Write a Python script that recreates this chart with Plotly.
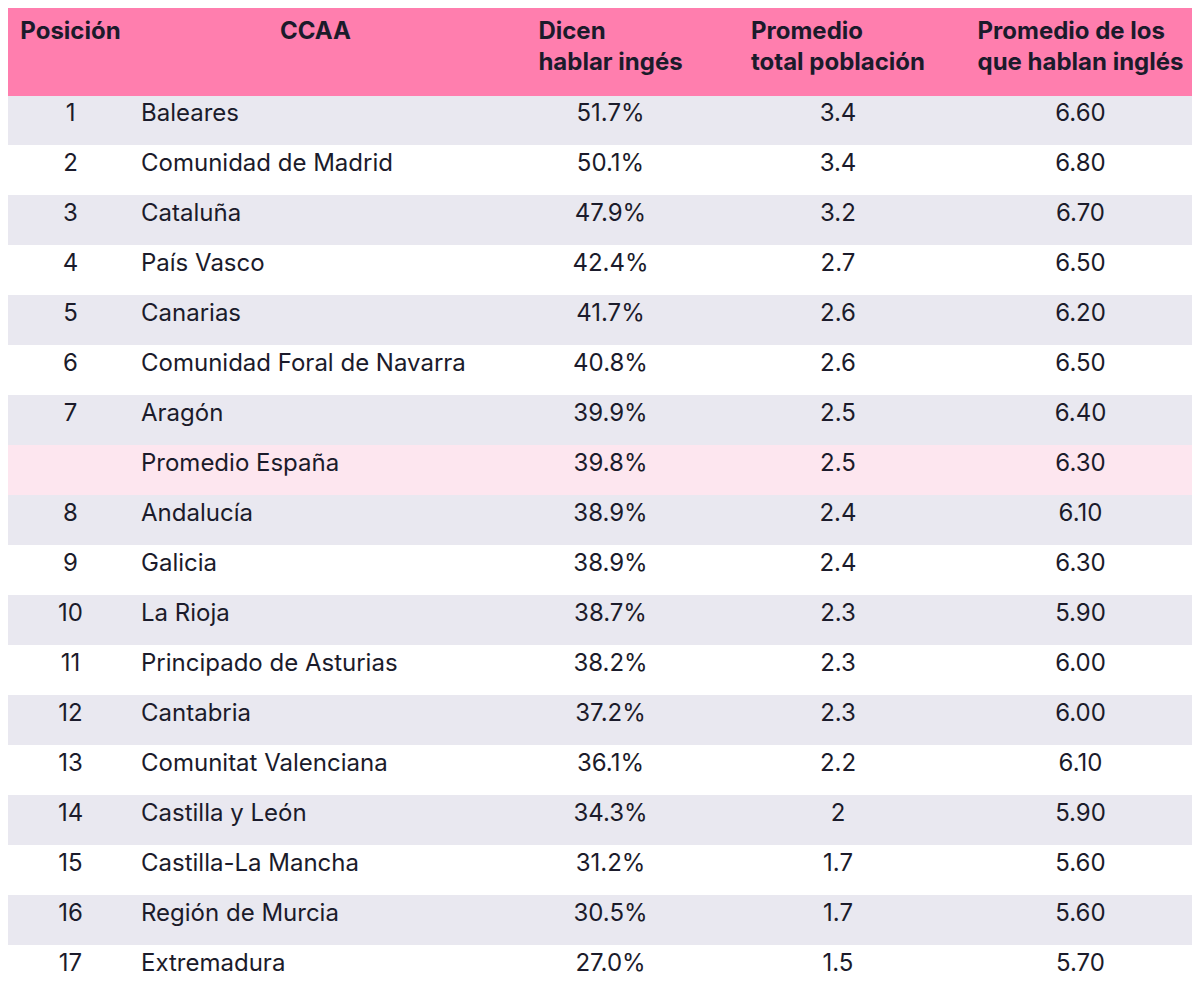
import plotly.graph_objects as go

posicion = ["1", "2", "3", "4", "5", "6", "7", "", "8", "9", "10", "11", "12", "13", "14", "15", "16", "17"]
ccaa = ["Baleares", "Comunidad de Madrid", "Cataluña", "País Vasco", "Canarias",
        "Comunidad Foral de Navarra", "Aragón", "Promedio España", "Andalucía", "Galicia",
        "La Rioja", "Principado de Asturias", "Cantabria", "Comunitat Valenciana",
        "Castilla y León", "Castilla-La Mancha", "Región de Murcia", "Extremadura"]
dicen = ["51.7%", "50.1%", "47.9%", "42.4%", "41.7%", "40.8%", "39.9%", "39.8%", "38.9%",
         "38.9%", "38.7%", "38.2%", "37.2%", "36.1%", "34.3%", "31.2%", "30.5%", "27.0%"]
promedio_total = ["3.4", "3.4", "3.2", "2.7", "2.6", "2.6", "2.5", "2.5", "2.4", "2.4",
                  "2.3", "2.3", "2.3", "2.2", "2", "1.7", "1.7", "1.5"]
promedio_ingles = ["6.60", "6.80", "6.70", "6.50", "6.20", "6.50", "6.40", "6.30", "6.10",
                   "6.30", "5.90", "6.00", "6.00", "6.10", "5.90", "5.60", "5.60", "5.70"]
headers = ["Posición", "CCAA", "Dicen<br>hablar ingés", "Promedio<br>total población",
           "Promedio de los<br>que hablan inglés"]

row_colors = []
for i, c in enumerate(ccaa):
    if c == "Promedio España":
        row_colors.append("#fde6ef")
    elif i % 2 == 0:
        row_colors.append("#e9e8f0")
    else:
        row_colors.append("#ffffff")

fig = go.Figure(go.Table(
    columnwidth=[125, 365, 225, 230, 255],
    header=dict(
        values=["<b>" + h + "</b>" for h in headers],
        fill_color="#ff7eae",
        line_color="#ff7eae",
        align="center",
        font=dict(family="Inter", size=24, color="#1b1b2b"),
        height=87,
    ),
    cells=dict(
        values=[posicion, ccaa, dicen, promedio_total, promedio_ingles],
        fill_color=[row_colors] * 5,
        line_color=[row_colors] * 5,
        align=["center", "left", "center", "center", "center"],
        font=dict(family="Inter", size=24, color="#1b1b2b"),
        height=50,
    ),
    domain=dict(x=[0, 1], y=[0, 1]),
))
fig.update_layout(width=1200, height=1006, margin=dict(l=0, r=0, t=0, b=0),
                  paper_bgcolor="#ffffff")
fig.write_html("out.html")
